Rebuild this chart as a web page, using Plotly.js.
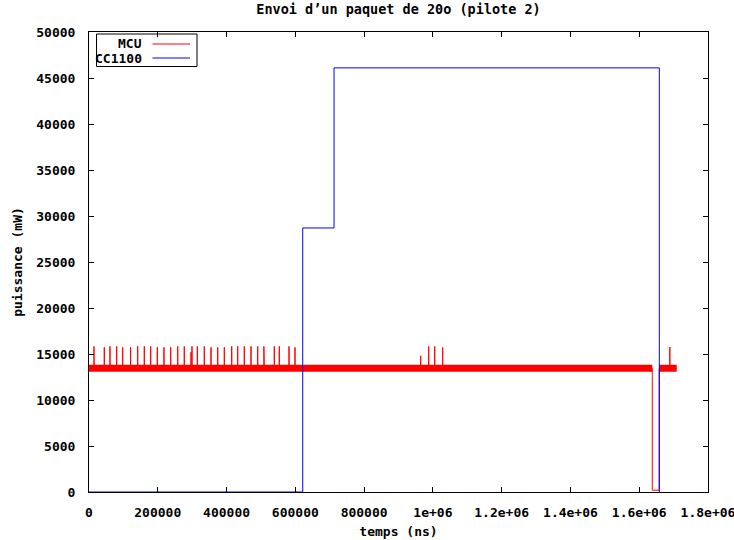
<!DOCTYPE html>
<html>
<head>
<meta charset="utf-8">
<script src="https://cdn.plot.ly/plotly-3.0.1.min.js"></script>
<style>html,body{margin:0;padding:0;background:#fff;}#chart{width:734px;height:540px;}</style>
</head>
<body>
<div id="chart"></div>
<script>
// ---- data ----
const chartTitle = "Envoi d’un paquet de 20o (pilote 2)";
const xTitle = "temps (ns)";
const yTitle = "puissance (mW)";

const xTickVals = [0, 200000, 400000, 600000, 800000, 1000000, 1200000, 1400000, 1600000, 1800000];
const xTickText = ["0", "200000", "400000", "600000", "800000", "1e+06", "1.2e+06", "1.4e+06", "1.6e+06", "1.8e+06"];
const yTickVals = [0, 5000, 10000, 15000, 20000, 25000, 30000, 35000, 40000, 45000, 50000];

const seriesNames = ["MCU", "CC1100"];
const seriesColors = ["#ff0000", "#0000ff"];

// MCU: steady level with short spikes, a drop near the end
const mcuBase = 13450;
const mcuSpikeTimes = [14500, 44500, 61000, 80500, 98000, 121000, 141600, 160800, 179400, 198600,
  218000, 237600, 258000, 277100, 296600, 299500, 315000, 335300, 354800, 374300,
  393500, 415000, 432400, 451600, 471100, 490600, 508500, 509800, 538900, 553400,
  581600, 599000, 964500, 987800, 1005300, 1028500, 1689000];
const mcuSpikePeaks = [15830, 15720, 15830, 15830, 15720, 15720, 15830, 15830, 15830, 15720,
  15720, 15720, 15830, 15830, 15200, 15830, 15830, 15830, 15720, 15720,
  15720, 15830, 15830, 15830, 15830, 15830, 15830, 15180, 15830, 15830,
  15830, 15720, 14800, 15830, 15830, 15700, 15760];
const mcuDropTimes = [1638000, 1658000];
const mcuDropLevel = 200;
const mcuStartTime = 0;
const mcuEndTime = 1709000;

// CC1100: step levels
const ccTimes = [0, 621500, 712500, 1658400];
const ccPower = [0, 28700, 46100, 0];

// ---- build traces ----
const mx = [mcuStartTime], my = [mcuBase];
let dropDone = false;
for (let i = 0; i < mcuSpikeTimes.length; i++) {
  const t = mcuSpikeTimes[i];
  if (!dropDone && t > mcuDropTimes[0]) {
    mx.push(mcuDropTimes[0], mcuDropTimes[0], mcuDropTimes[1], mcuDropTimes[1]);
    my.push(mcuBase, mcuDropLevel, mcuDropLevel, mcuBase);
    dropDone = true;
  }
  mx.push(t, t, t);
  my.push(mcuBase, mcuSpikePeaks[i], mcuBase);
}
mx.push(mcuEndTime); my.push(mcuBase);

const bandX = [mcuStartTime, mcuDropTimes[0], null, mcuDropTimes[1], mcuEndTime];
const bandY = [mcuBase, mcuBase, null, mcuBase, mcuBase];

const fontFam = "DejaVu Sans Mono, monospace";
const fs = 13;
const traces = [
  {x: bandX, y: bandY, type: 'scatter', mode: 'lines', showlegend: false, hoverinfo: 'skip',
   line: {color: seriesColors[0], width: 7}, connectgaps: false},
  {x: mx, y: my, type: 'scatter', mode: 'lines', name: seriesNames[0], showlegend: false,
   line: {color: seriesColors[0], width: 1}},
  {x: ccTimes, y: ccPower, type: 'scatter', mode: 'lines', name: seriesNames[1], showlegend: false,
   line: {color: seriesColors[1], width: 1, shape: 'hv'}}
];

const axisCommon = {
  showgrid: false, zeroline: false, showline: true, linecolor: '#000', linewidth: 1,
  mirror: 'allticks', ticks: 'inside', ticklen: 5, tickcolor: '#000', tickwidth: 1,
  tickfont: {family: fontFam, size: fs, color: '#000', weight: 'bold'}
};

// gnuplot-style key (text first, then sample line), placed in paper coordinates
const plotL = 89, plotR = 708, plotT = 32, plotB = 492;
const px = v => (v - plotL) / (plotR - plotL);
const py = v => (plotB - v) / (plotB - plotT);
const keyRows = [44, 58];
const shapes = [
  {type: 'rect', xref: 'paper', yref: 'paper', x0: px(96.5), x1: px(197), y0: py(66.5), y1: py(34),
   line: {color: '#000', width: 1}, fillcolor: 'rgba(255,255,255,0)'}
];
const annotations = [];
seriesNames.forEach((n, i) => {
  shapes.push({type: 'line', xref: 'paper', yref: 'paper', x0: px(152.5), x1: px(190),
               y0: py(keyRows[i]), y1: py(keyRows[i]), line: {color: seriesColors[i], width: 1}});
  annotations.push({text: n, xref: 'paper', yref: 'paper', x: px(143.5), y: py(keyRows[i]),
                    xanchor: 'right', yanchor: 'middle', showarrow: false,
                    font: {family: fontFam, size: fs, color: '#000', weight: 'bold'}});
});

const layout = {
  width: 734, height: 540,
  margin: {l: 89, r: 26, t: 32, b: 48, pad: 0},
  paper_bgcolor: '#fff', plot_bgcolor: '#fff',
  title: {text: chartTitle, x: 0.5, xref: 'paper', y: 0.982, yref: 'container', yanchor: 'middle',
          font: {family: fontFam, size: 13.5, color: '#000', weight: 'bold'}},
  xaxis: Object.assign({}, axisCommon, {
    range: [0, 1800000], tickmode: 'array', tickvals: xTickVals, ticktext: xTickText,
    ticklabelstandoff: 8, ticklabeloverflow: 'allow',
    title: {text: xTitle, standoff: 8, font: {family: fontFam, size: fs, color: '#000', weight: 'bold'}}
  }),
  yaxis: Object.assign({}, axisCommon, {
    range: [0, 50000], tickmode: 'array', tickvals: yTickVals, ticktext: yTickVals.map(String),
    ticklabelstandoff: 10,
    title: {text: yTitle, standoff: 10, font: {family: fontFam, size: fs, color: '#000', weight: 'bold'}}
  }),
  showlegend: false,
  shapes: shapes,
  annotations: annotations
};

Plotly.newPlot('chart', traces, layout, {displayModeBar: false, staticPlot: true});
</script>
</body>
</html>
